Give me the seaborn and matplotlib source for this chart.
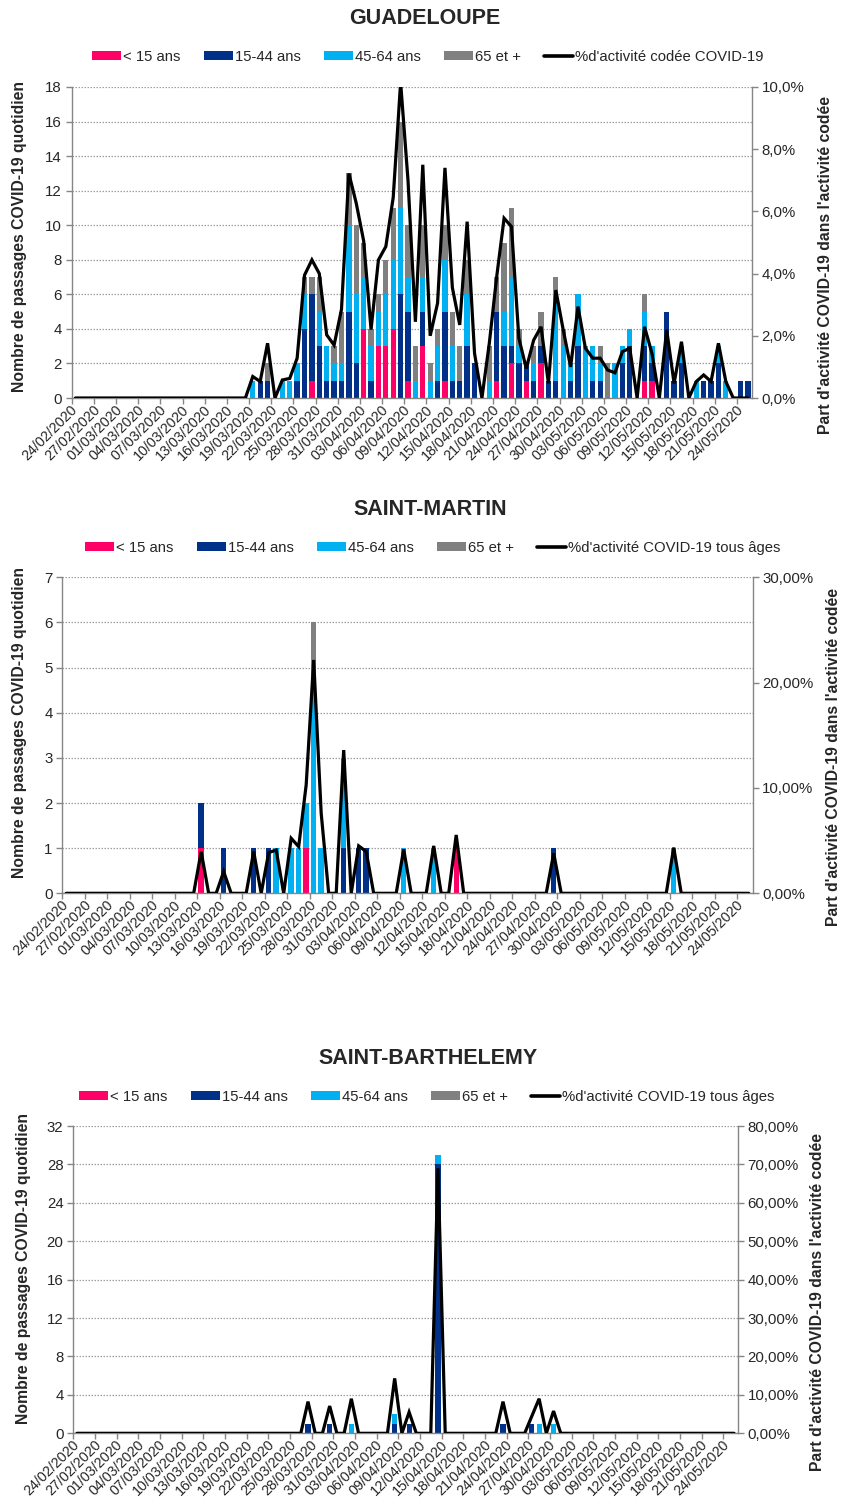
import numpy as np
import pandas as pd
import matplotlib
matplotlib.use('Agg')
import matplotlib.pyplot as plt
import seaborn as sns
from matplotlib import font_manager
from matplotlib.patches import Patch
from matplotlib.lines import Line2D
from matplotlib.ticker import MultipleLocator, FuncFormatter

W, H = 851, 1504

DATES = pd.date_range('2020-02-24', '2020-05-25', freq='D').strftime('%d/%m/%Y').tolist()
AGE_GROUPS = ['< 15 ans', '15-44 ans', '45-64 ans', '65 et +']
AGE_COLORS = ['#FF0066', '#003087', '#00B0F0', '#808080']

# --- Guadeloupe (24/02 -> 25/05, 4 rows of 23 days)
GUA_MOINS15 = [0, 0, 0, 0, 0, 0, 0, 0, 0, 0, 0, 0, 0, 0, 0, 0, 0, 0, 0, 0, 0, 0, 0,
               0, 0, 0, 0, 0, 0, 0, 0, 0, 1, 0, 0, 0, 0, 0, 0, 4, 0, 3, 3, 4, 0, 1,
               0, 3, 0, 0, 1, 0, 0, 0, 0, 0, 0, 1, 0, 2, 0, 1, 0, 2, 0, 0, 0, 0, 0,
               0, 0, 0, 0, 0, 0, 0, 0, 1, 1, 0, 0, 0, 0, 0, 0, 0, 0, 0, 0, 0, 0, 0]
GUA_15_44 = [0, 0, 0, 0, 0, 0, 0, 0, 0, 0, 0, 0, 0, 0, 0, 0, 0, 0, 0, 0, 0, 0, 0,
             0, 0, 1, 1, 0, 0, 0, 1, 4, 5, 3, 1, 1, 1, 5, 2, 0, 1, 0, 0, 0, 6, 4,
             0, 2, 0, 1, 4, 1, 1, 3, 2, 0, 0, 4, 3, 1, 2, 1, 1, 1, 1, 1, 0, 1, 3,
             0, 1, 1, 0, 0, 2, 3, 0, 2, 1, 0, 5, 1, 2, 0, 0, 1, 1, 2, 0, 0, 1, 1]
GUA_45_64 = [0, 0, 0, 0, 0, 0, 0, 0, 0, 0, 0, 0, 0, 0, 0, 0, 0, 0, 0, 0, 0, 0, 0,
             0, 1, 0, 0, 0, 1, 1, 1, 2, 0, 2, 2, 1, 1, 5, 4, 3, 2, 2, 3, 4, 5, 2,
             1, 2, 1, 2, 3, 2, 0, 3, 0, 0, 1, 0, 2, 4, 1, 0, 1, 0, 0, 5, 3, 1, 3,
             3, 2, 1, 0, 2, 1, 1, 0, 2, 1, 0, 0, 0, 1, 0, 1, 0, 0, 1, 1, 0, 0, 0]
GUA_65P = [0, 0, 0, 0, 0, 0, 0, 0, 0, 0, 0, 0, 0, 0, 0, 0, 0, 0, 0, 0, 0, 0, 0,
           0, 0, 0, 1, 0, 0, 0, 0, 1, 1, 2, 0, 1, 3, 3, 4, 2, 1, 1, 2, 3, 5, 3,
           2, 3, 1, 1, 2, 2, 2, 2, 0, 0, 2, 2, 4, 4, 1, 0, 1, 2, 0, 1, 1, 0, 0,
           0, 0, 1, 2, 0, 0, 0, 0, 1, 0, 0, 0, 0, 0, 0, 0, 0, 0, 0, 0, 0, 0, 0]
GUA_PCT = [0, 0, 0, 0, 0, 0, 0, 0, 0, 0, 0, 0, 0, 0, 0, 0, 0, 0, 0, 0, 0, 0, 0,
           0, 0.69, 0.53, 1.76, 0, 0.58, 0.63, 1.28, 3.95, 4.44, 4.0, 2.03, 1.7, 2.85,
           7.22, 6.26, 5.05, 2.2, 4.44, 4.87, 6.45, 10.15, 7.0,
           2.45, 7.5, 2.0, 3.05, 7.4, 3.55, 2.35, 5.67, 1.44, 0, 1.76, 3.9, 5.78, 5.51,
           1.92, 0.95, 1.86, 2.29, 0.47, 3.47, 2.19, 1.0, 2.94,
           1.6, 1.28, 1.28, 0.9, 0.81, 1.49, 1.6, 0, 2.29, 1.44, 0, 2.19, 0.47, 1.81,
           0, 0.53, 0.74, 0.53, 1.76, 0.53, 0, 0, 0]

# --- Saint-Martin
SM_MOINS15 = [0, 0, 0, 0, 0, 0, 0, 0, 0, 0, 0, 0, 0, 0, 0, 0, 0, 0, 1, 0, 0, 0, 0,
              0, 0, 0, 0, 0, 0, 0, 0, 0, 1, 0, 0, 0, 0, 0, 0, 0, 0, 0, 0, 0, 0, 0,
              0, 0, 0, 0, 0, 0, 1, 0, 0, 0, 0, 0, 0, 0, 0, 0, 0, 0, 0, 0, 0, 0, 0,
              0, 0, 0, 0, 0, 0, 0, 0, 0, 0, 0, 0, 0, 0, 0, 0, 0, 0, 0, 0, 0, 0, 0]
SM_15_44 = [0, 0, 0, 0, 0, 0, 0, 0, 0, 0, 0, 0, 0, 0, 0, 0, 0, 0, 1, 0, 0, 1, 0,
            0, 0, 1, 0, 1, 0, 0, 0, 0, 0, 0, 0, 0, 0, 1, 0, 1, 1, 0, 0, 0, 0, 0,
            0, 0, 0, 0, 0, 0, 0, 0, 0, 0, 0, 0, 0, 0, 0, 0, 0, 0, 0, 1, 0, 0, 0,
            0, 0, 0, 0, 0, 0, 0, 0, 0, 0, 0, 0, 0, 0, 0, 0, 0, 0, 0, 0, 0, 0, 0]
SM_45_64 = [0, 0, 0, 0, 0, 0, 0, 0, 0, 0, 0, 0, 0, 0, 0, 0, 0, 0, 0, 0, 0, 0, 0,
            0, 0, 0, 0, 0, 1, 0, 1, 1, 1, 5, 1, 0, 0, 2, 0, 0, 0, 0, 0, 0, 0, 1,
            0, 0, 0, 1, 0, 0, 0, 0, 0, 0, 0, 0, 0, 0, 0, 0, 0, 0, 0, 0, 0, 0, 0,
            0, 0, 0, 0, 0, 0, 0, 0, 0, 0, 0, 0, 1, 0, 0, 0, 0, 0, 0, 0, 0, 0, 0]
SM_65P = [0, 0, 0, 0, 0, 0, 0, 0, 0, 0, 0, 0, 0, 0, 0, 0, 0, 0, 0, 0, 0, 0, 0,
          0, 0, 0, 0, 0, 0, 0, 0, 0, 0, 1, 0, 0, 0, 0, 0, 0, 0, 0, 0, 0, 0, 0,
          0, 0, 0, 0, 0, 0, 0, 0, 0, 0, 0, 0, 0, 0, 0, 0, 0, 0, 0, 0, 0, 0, 0,
          0, 0, 0, 0, 0, 0, 0, 0, 0, 0, 0, 0, 0, 0, 0, 0, 0, 0, 0, 0, 0, 0, 0]
SM_PCT = [0, 0, 0, 0, 0, 0, 0, 0, 0, 0, 0, 0, 0, 0, 0, 0, 0, 0, 3.96, 0, 0, 2.06, 0,
          0, 0, 3.96, 0, 3.86, 4.11, 0, 5.22, 4.43, 10.3, 22.15, 7.6, 0, 0, 13.6, 0,
          4.5, 3.96, 0, 0, 0, 0, 4.18,
          0, 0, 0, 4.5, 0, 0, 5.54, 0, 0, 0, 0, 0, 0, 0, 0, 0, 0, 0, 0, 3.8, 0, 0, 0,
          0, 0, 0, 0, 0, 0, 0, 0, 0, 0, 0, 0, 4.34, 0, 0, 0, 0, 0, 0, 0, 0, 0, 0]

# --- Saint-Barthelemy
SB_MOINS15 = [0, 0, 0, 0, 0, 0, 0, 0, 0, 0, 0, 0, 0, 0, 0, 0, 0, 0, 0, 0, 0, 0, 0,
              0, 0, 0, 0, 0, 0, 0, 0, 0, 0, 0, 0, 0, 0, 0, 0, 0, 0, 0, 0, 0, 0, 0,
              0, 0, 0, 0, 0, 0, 0, 0, 0, 0, 0, 0, 0, 0, 0, 0, 0, 0, 0, 0, 0, 0, 0,
              0, 0, 0, 0, 0, 0, 0, 0, 0, 0, 0, 0, 0, 0, 0, 0, 0, 0, 0, 0, 0, 0, 0]
SB_15_44 = [0, 0, 0, 0, 0, 0, 0, 0, 0, 0, 0, 0, 0, 0, 0, 0, 0, 0, 0, 0, 0, 0, 0,
            0, 0, 0, 0, 0, 0, 0, 0, 0, 1, 0, 0, 1, 0, 0, 0, 0, 0, 0, 0, 0, 1, 0,
            1, 0, 0, 0, 28, 0, 0, 0, 0, 0, 0, 0, 0, 1, 0, 0, 0, 1, 0, 0, 0, 0, 0,
            0, 0, 0, 0, 0, 0, 0, 0, 0, 0, 0, 0, 0, 0, 0, 0, 0, 0, 0, 0, 0, 0, 0]
SB_45_64 = [0, 0, 0, 0, 0, 0, 0, 0, 0, 0, 0, 0, 0, 0, 0, 0, 0, 0, 0, 0, 0, 0, 0,
            0, 0, 0, 0, 0, 0, 0, 0, 0, 0, 0, 0, 0, 0, 0, 1, 0, 0, 0, 0, 0, 1, 0,
            0, 0, 0, 0, 1, 0, 0, 0, 0, 0, 0, 0, 0, 0, 0, 0, 0, 0, 1, 0, 1, 0, 0,
            0, 0, 0, 0, 0, 0, 0, 0, 0, 0, 0, 0, 0, 0, 0, 0, 0, 0, 0, 0, 0, 0, 0]
SB_65P = [0, 0, 0, 0, 0, 0, 0, 0, 0, 0, 0, 0, 0, 0, 0, 0, 0, 0, 0, 0, 0, 0, 0,
          0, 0, 0, 0, 0, 0, 0, 0, 0, 0, 0, 0, 0, 0, 0, 0, 0, 0, 0, 0, 0, 0, 0,
          0, 0, 0, 0, 0, 0, 0, 0, 0, 0, 0, 0, 0, 0, 0, 0, 0, 0, 0, 0, 0, 0, 0,
          0, 0, 0, 0, 0, 0, 0, 0, 0, 0, 0, 0, 0, 0, 0, 0, 0, 0, 0, 0, 0, 0, 0]
SB_PCT = [0, 0, 0, 0, 0, 0, 0, 0, 0, 0, 0, 0, 0, 0, 0, 0, 0, 0, 0, 0, 0, 0, 0,
          0, 0, 0, 0, 0, 0, 0, 0, 0, 8.25, 0, 0, 7.1, 0, 0, 9.0, 0, 0, 0, 0, 0, 14.3, 0,
          5.5, 0, 0, 0, 69.0, 0, 0, 0, 0, 0, 0, 0, 0, 8.25, 0, 0, 0, 4.5, 9.0, 0, 5.8, 0, 0,
          0, 0, 0, 0, 0, 0, 0, 0, 0, 0, 0, 0, 0, 0, 0, 0, 0, 0, 0, 0, 0, 0, 0]

sns.set_style('white')
installed = {f.name for f in font_manager.fontManager.ttflist}
HAS_NARROW = 'Liberation Sans Narrow' in installed
NARROW = ['Liberation Sans Narrow', 'Liberation Sans'] if HAS_NARROW else ['Liberation Sans']
plt.rcParams['font.family'] = ['Liberation Sans', 'DejaVu Sans']

GREY = '#868686'
LEGEND_SIZE = 12.8 if HAS_NARROW else 10.7
TITLE_SIZE = 18 if HAS_NARROW else 15.5


def fx(px):
    return px / W


def fy(py):
    return 1 - py / H


def draw_panel(fig, box, title, title_xy, legend_xy, line_label, groups, pct,
               ymax, ystep, pmax, pstep, ndec, left_xy, right_xy):
    left, top, right, bottom = box
    ax = fig.add_axes([fx(left), fy(bottom), (right - left) / W, (bottom - top) / H])
    n = len(DATES)
    cum = np.cumsum(np.array(groups, dtype=float), axis=0)
    # stacked bars: cumulative totals drawn from the top layer down
    for k in range(3, -1, -1):
        sns.barplot(x=DATES, y=cum[k], order=DATES, color=AGE_COLORS[k], saturation=1,
                    width=0.72, linewidth=0, errorbar=None, ax=ax)
    ax.set_xlim(-0.5, n - 0.5)
    ax.set_ylim(0, ymax)
    ax.set_xlabel('')
    ax.set_ylabel('')
    ax.yaxis.set_major_locator(MultipleLocator(ystep))
    ax.yaxis.grid(True, color='#a0a0a0', linestyle=(0, (1.2, 1.2)), linewidth=0.9)
    ax.xaxis.grid(False)
    ax.set_axisbelow(True)
    for s in ['top', 'right']:
        ax.spines[s].set_visible(False)
    for s in ['left', 'bottom']:
        ax.spines[s].set_color(GREY)
        ax.spines[s].set_linewidth(1)
    ax.tick_params(axis='y', left=True, length=4, width=1, color=GREY, labelsize=10.8, pad=3)

    ax.set_xticks(range(0, n, 3))
    ax.set_xticklabels(DATES[::3], rotation=45, ha='right', va='center',
                       rotation_mode='anchor', fontsize=10.3)
    ax.set_xticks(np.arange(-0.5, n, 3), minor=True)
    ax.tick_params(axis='x', which='major', bottom=True, length=0, pad=7)
    ax.tick_params(axis='x', which='minor', bottom=True, length=4, width=1, color=GREY)

    ax2 = ax.twinx()
    ax2.plot(np.arange(n), pct, color='black', linewidth=2.3, solid_joinstyle='miter')
    ax2.set_xlim(-0.5, n - 0.5)
    ax2.set_ylim(0, pmax)
    ax2.yaxis.set_major_locator(MultipleLocator(pstep))
    ax2.yaxis.set_major_formatter(FuncFormatter(
        lambda v, p: f'{v:.{ndec}f}'.replace('.', ',') + '%'))
    for s in ['top', 'left', 'bottom']:
        ax2.spines[s].set_visible(False)
    ax2.spines['right'].set_color(GREY)
    ax2.spines['right'].set_linewidth(1)
    ax2.grid(False)
    ax2.tick_params(axis='y', right=True, length=4, width=1, color=GREY, labelsize=10.8, pad=3)

    fig.text(fx(title_xy[0]), fy(title_xy[1]), title, ha='center', va='center',
             fontsize=TITLE_SIZE, fontweight='bold', family=NARROW)
    fig.text(fx(left_xy[0]), fy(left_xy[1]), 'Nombre de passages COVID-19 quotidien',
             rotation=90, ha='center', va='center', fontsize=11.3, fontweight='bold')
    fig.text(fx(right_xy[0]), fy(right_xy[1]), "Part d'activité COVID-19 dans l'activité codée",
             rotation=90, ha='center', va='center', fontsize=11.3, fontweight='bold')

    handles = [Patch(facecolor=c, edgecolor='none') for c in AGE_COLORS]
    handles.append(Line2D([0], [0], color='black', linewidth=2.6))
    fig.legend(handles, AGE_GROUPS + [line_label], loc='center',
               bbox_to_anchor=(fx(legend_xy[0]), fy(legend_xy[1])), ncol=5, frameon=False,
               handlelength=1.95, handleheight=0.6, handletextpad=0.15, columnspacing=1.55,
               prop={'family': NARROW, 'size': LEGEND_SIZE})
    return ax, ax2


fig = plt.figure(figsize=(W / 100, H / 100), dpi=100)

draw_panel(fig, (71.7, 87, 751.7, 398), 'GUADELOUPE', (425, 18), (428, 57),
           "%d'activité codée COVID-19",
           [GUA_MOINS15, GUA_15_44, GUA_45_64, GUA_65P], GUA_PCT,
           18, 2, 10, 2, 1, (20, 237), (825, 265))

draw_panel(fig, (62.4, 577.3, 752.5, 893.3), 'SAINT-MARTIN', (430, 509), (433, 548),
           "%d'activité COVID-19 tous âges",
           [SM_MOINS15, SM_15_44, SM_45_64, SM_65P], SM_PCT,
           7, 1, 30, 10, 2, (20, 722), (833, 757))

draw_panel(fig, (73.3, 1126, 737.7, 1433.3), 'SAINT-BARTHELEMY', (428, 1058), (427, 1097),
           "%d'activité COVID-19 tous âges",
           [SB_MOINS15, SB_15_44, SB_45_64, SB_65P], SB_PCT,
           32, 4, 80, 10, 2, (24, 1268), (818, 1302))

fig.savefig('out.png', dpi=100, facecolor='white')
